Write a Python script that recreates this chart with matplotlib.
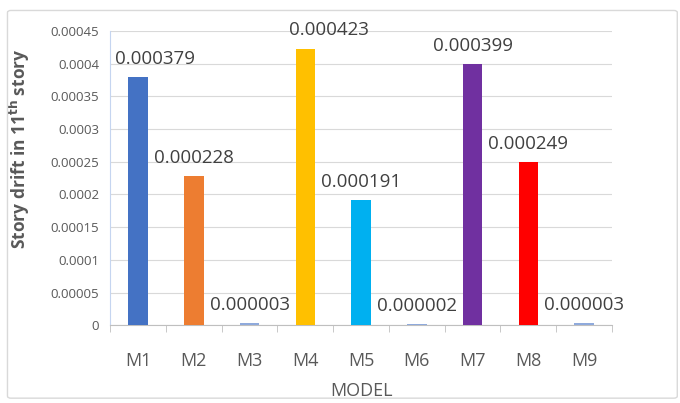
import matplotlib
matplotlib.use("Agg")
import matplotlib.pyplot as plt
import numpy as np
from matplotlib.patches import FancyBboxPatch

models = ["M1", "M2", "M3", "M4", "M5", "M6", "M7", "M8", "M9"]
drift = [0.000379, 0.000228, 0.000003, 0.000423, 0.000191, 0.000002, 0.000399, 0.000249, 0.000003]
labels = ["0.000379", "0.000228", "0.000003", "0.000423", "0.000191", "0.000002", "0.000399", "0.000249", "0.000003"]
colors = ["#4472C4", "#ED7D31", "#8FAADC", "#FFC000", "#00B0F0", "#8FAADC", "#7030A0", "#FF0000", "#8FAADC"]

plt.rcParams["font.family"] = ["Open Sans", "DejaVu Sans"]
grey = "#595959"

fig = plt.figure(figsize=(6.8, 4.03), dpi=100)
# chart area frame like excel
fig.patches.append(FancyBboxPatch((0.011, 0.012), 0.985, 0.962, boxstyle="round,pad=0,rounding_size=0.005",
                                  transform=fig.transFigure, fill=False, edgecolor="#D9D9D9", lw=1))
ax = fig.add_axes([0.162, 0.193, 0.738, 0.73])

x = np.arange(len(models))
ax.bar(x, drift, width=0.35, color=colors, zorder=3)

# label shifts (points) for the crowded ones
dx = {0: 12, 3: 17}
for i, (v, lab) in enumerate(zip(drift, labels)):
    ax.annotate(lab, (x[i], v), xytext=(dx.get(i, 0), 9.5), textcoords="offset points",
                ha="center", va="baseline", fontsize=13.5, color="#404040")

ax.set_xlim(-0.5, len(models) - 0.5)
ax.set_ylim(0, 0.00045)
ax.set_yticks(np.arange(0, 0.00046, 0.00005))
ax.set_yticklabels(["0", "0.00005", "0.0001", "0.00015", "0.0002", "0.00025", "0.0003", "0.00035", "0.0004", "0.00045"])
ax.set_xticks(x)
ax.set_xticklabels(models)
ax.set_xticks(np.arange(-0.5, len(models), 1), minor=True)
ax.tick_params(axis="x", which="major", length=0, labelsize=13, labelcolor=grey, pad=19)
ax.tick_params(axis="x", which="minor", length=5, color="#BFBFBF")
ax.tick_params(axis="y", length=0, labelsize=9.5, labelcolor=grey, pad=8)

ax.grid(axis="y", color="#D9D9D9", lw=0.8, zorder=0)
for s in ["top", "right"]:
    ax.spines[s].set_visible(False)
ax.spines["bottom"].set_color("#BFBFBF")
ax.spines["left"].set_color("#C5D5F0")

ax.set_xlabel("MODEL", fontsize=13, color=grey, labelpad=9)
ax.set_ylabel("Story drift in 11$^{\\mathbf{th}}$ story", fontsize=12.5, fontweight="bold", color=grey)
ax.yaxis.set_label_coords(-0.155, 0.6)

fig.savefig("out.png", dpi=100)
